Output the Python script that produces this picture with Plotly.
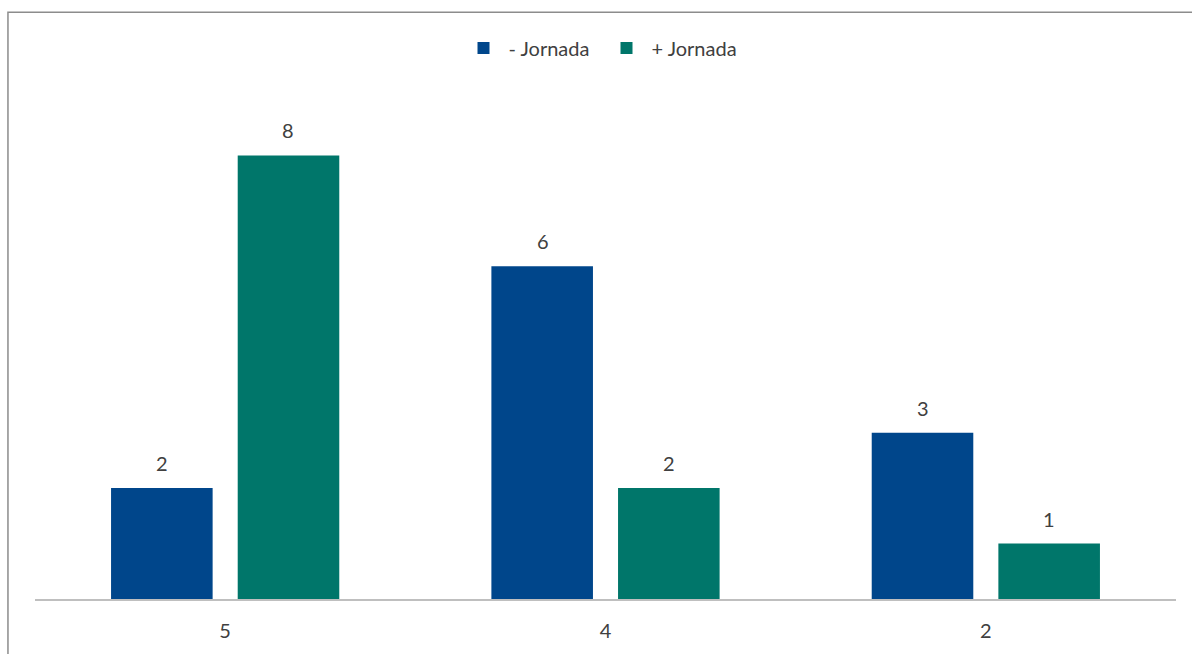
import plotly.graph_objects as go

categories = ["5", "4", "2"]
menos_jornada = [2, 6, 3]
mas_jornada = [8, 2, 1]
series_names = ["- Jornada", "+ Jornada"]

BLUE = "#00468B"
TEAL = "#00766A"
TEXT = "#404040"
FONT = "Lato"
FSIZE = 20

fig = go.Figure()
fig.add_trace(go.Bar(x=categories, y=menos_jornada, name=series_names[0],
                     marker=dict(color=BLUE, line=dict(width=0))))
fig.add_trace(go.Bar(x=categories, y=mas_jornada, name=series_names[1],
                     marker=dict(color=TEAL, line=dict(width=0))))

# value labels above each bar (x given as category index)
for vals, shift in ((menos_jornada, -63), (mas_jornada, 63)):
    for i, v in enumerate(vals):
        fig.add_annotation(x=i, y=v, text=str(v), showarrow=False,
                           xshift=shift, yshift=11, yanchor="bottom",
                           font=dict(family=FONT, size=FSIZE, color=TEXT))

# outer chart frame
fig.add_shape(type="rect", xref="paper", yref="paper",
              x0=-0.0237, x1=1.05, y0=-0.5, y1=1.176,
              line=dict(color="#8C8C8C", width=1.5), layer="below")

fig.update_layout(
    width=1192, height=654,
    margin=dict(l=35, r=16, t=100, b=55, autoexpand=False),
    paper_bgcolor="white", plot_bgcolor="white",
    barmode="group", bargap=0.334, bargroupgap=0.198,
    font=dict(family=FONT, size=FSIZE, color=TEXT),
    showlegend=True,
    legend=dict(orientation="h", x=0.4965, xanchor="center", y=1.104, yanchor="middle",
                font=dict(family=FONT, size=FSIZE, color=TEXT), itemwidth=40,
                entrywidth=88, traceorder="normal"),
    xaxis=dict(type="category", range=[-0.5, 2.5], showline=True,
               linecolor="#BFBFBF", linewidth=1.5, automargin=False,
               showgrid=False, ticks="", ticklabelstandoff=13,
               tickfont=dict(family=FONT, size=FSIZE, color=TEXT)),
    yaxis=dict(range=[0, 9], visible=False, showgrid=False, automargin=False),
)

fig.write_html("out.html")
